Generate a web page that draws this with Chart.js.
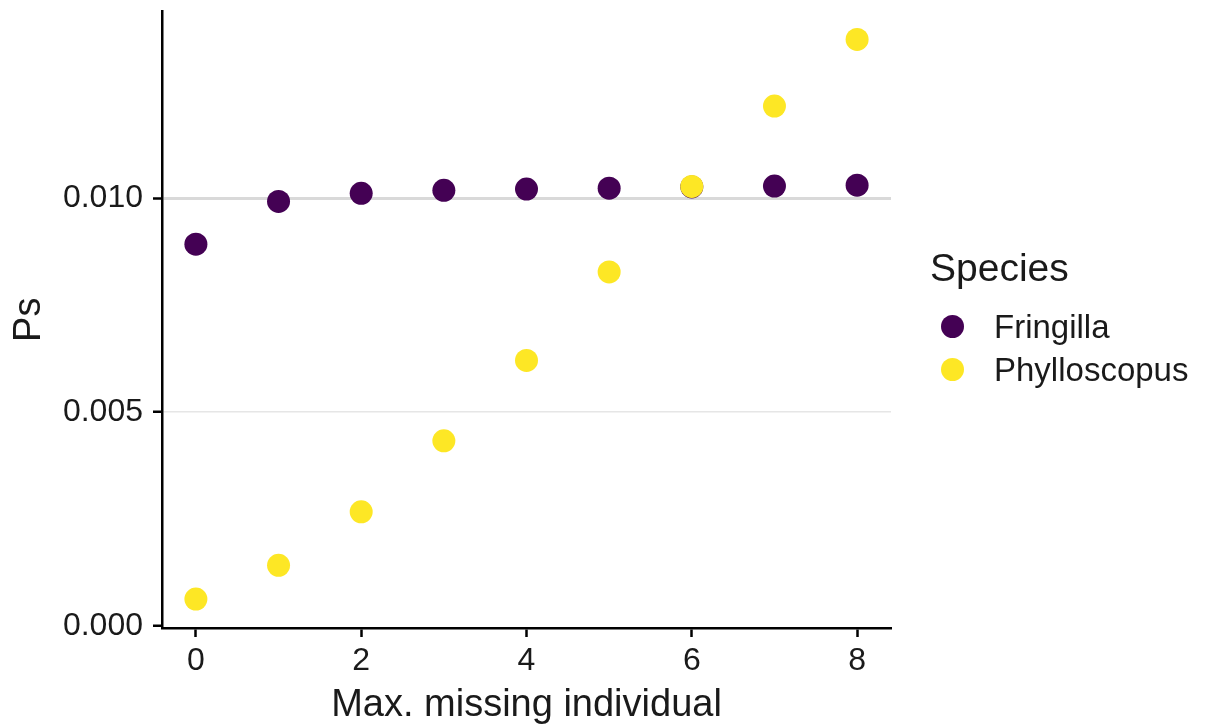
<!DOCTYPE html>
<html>
<head>
<meta charset="utf-8">
<title>Ps by max. missing individual</title>
<script src="https://cdn.jsdelivr.net/npm/chart.js@4.4.0/dist/chart.umd.min.js"></script>
<style>
  html, body { margin: 0; padding: 0; background: #fff; }
  #wrap { position: relative; width: 1207px; height: 726px; font-family: 'Liberation Sans', Arial, sans-serif; color: #1a1a1a; }
  #chart { position: absolute; left: 0; top: 0; }
  .lg { position: absolute; white-space: nowrap; }
  .lg-title { font-size: 39px; line-height: 39px; }
  .lg-label { font-size: 33px; line-height: 33px; }
  .lg-dot { position: absolute; width: 23px; height: 23px; border-radius: 50%; }
</style>
</head>
<body>
<div id="wrap">
  <canvas id="chart" width="1207" height="726"></canvas>
</div>
<script>
// ===== DATA =====
const missing = [0, 1, 2, 3, 4, 5, 6, 7, 8];
const species = ["Fringilla", "Phylloscopus"];
const fringilla = [0.00893, 0.00993, 0.01012, 0.01019, 0.01022, 0.01024, 0.01027, 0.01029, 0.01031];
const phylloscopus = [0.00063, 0.00142, 0.00267, 0.00433, 0.00621, 0.00828, 0.01028, 0.01216, 0.01372];
const xTicks = [0, 2, 4, 6, 8];
const yTicks = [0, 0.005, 0.01];
const colors = ["#440154", "#FDE725"];

// ===== CHART =====
Chart.defaults.font.family = "'Liberation Sans', Arial, sans-serif";
Chart.defaults.color = '#1a1a1a';

const ctx = document.getElementById("chart").getContext("2d");

function series(values) {
  return missing.map((x, i) => ({ x: x, y: values[i] }));
}

const chart = new Chart(ctx, {
  type: "scatter",
  data: {
    datasets: [
      {
        label: species[0],
        data: series(fringilla),
        backgroundColor: colors[0],
        borderWidth: 0,
        pointRadius: 11.5,
        pointHoverRadius: 11.5,
        order: 1
      },
      {
        label: species[1],
        data: series(phylloscopus),
        backgroundColor: colors[1],
        borderWidth: 0,
        pointRadius: 11.5,
        pointHoverRadius: 11.5,
        order: 0
      }
    ]
  },
  options: {
    responsive: false,
    animation: false,
    devicePixelRatio: 1,
    layout: { padding: { left: 0, top: 8, right: 316, bottom: 0 } },
    plugins: {
      legend: { display: false },
      tooltip: { enabled: false }
    },
    scales: {
      x: {
        type: "linear",
        min: -0.41,
        max: 8.41,
        afterFit: function(scale) {
          scale.height = 98;
          scale.paddingLeft = 0;
          scale.paddingRight = 0;
        },
        afterBuildTicks: function(scale) { scale.ticks = xTicks.map(v => ({ value: v })); },
        ticks: {
          font: { size: 32 },
          color: '#1a1a1a',
          padding: 5,
          autoSkip: false,
          maxRotation: 0,
          callback: function(value) { return String(value); }
        },
        grid: {
          drawOnChartArea: false,
          drawTicks: true,
          tickLength: 9,
          tickWidth: 2.5,
          tickColor: '#000'
        },
        border: { display: true, color: '#000', width: 2.5 },
        title: {
          display: true,
          text: "Max. missing individual",
          font: { size: 38, lineHeight: 1.1 },
          color: '#1a1a1a',
          padding: { top: 0, bottom: 0 }
        }
      },
      y: {
        type: "linear",
        min: -0.0000465,
        max: 0.014372,
        afterFit: function(scale) {
          scale.width = 162;
          scale.paddingTop = 0;
          scale.paddingBottom = 0;
        },
        afterBuildTicks: function(scale) { scale.ticks = yTicks.map(v => ({ value: v })); },
        ticks: {
          font: { size: 32 },
          color: '#1a1a1a',
          padding: 10,
          callback: function(value) { return Number(value).toFixed(3); }
        },
        grid: {
          color: function(c) {
            if (!c.tick || c.tick.value === 0) return 'rgba(0,0,0,0)';
            return c.tick.value === 0.01 ? '#d9d9d9' : '#e6e6e6';
          },
          lineWidth: function(c) {
            return c.tick && c.tick.value === 0.01 ? 3 : 1.5;
          },
          tickLength: 9,
          tickWidth: 2.5,
          tickColor: '#000'
        },
        border: { display: true, color: '#000', width: 2.5 },
        title: {
          display: true,
          text: "Ps",
          font: { size: 38 },
          color: '#1a1a1a',
          padding: { top: 7, bottom: 0 }
        }
      }
    }
  }
});

// ===== LEGEND (html, built from the datasets) =====
const wrap = document.getElementById("wrap");
const legendTitle = document.createElement("div");
legendTitle.className = "lg lg-title";
legendTitle.style.left = "930px";
legendTitle.style.top = "248px";
legendTitle.textContent = "Species";
wrap.appendChild(legendTitle);

chart.data.datasets.forEach(function(ds, i) {
  const cy = 326 + i * 43;
  const dot = document.createElement("div");
  dot.className = "lg-dot";
  dot.style.background = ds.backgroundColor;
  dot.style.left = (952 - 11.5) + "px";
  dot.style.top = (cy - 11.5) + "px";
  wrap.appendChild(dot);

  const label = document.createElement("div");
  label.className = "lg lg-label";
  label.style.left = "994px";
  label.style.top = (cy - 16.5) + "px";
  label.textContent = ds.label;
  wrap.appendChild(label);
});
</script>
</body>
</html>
